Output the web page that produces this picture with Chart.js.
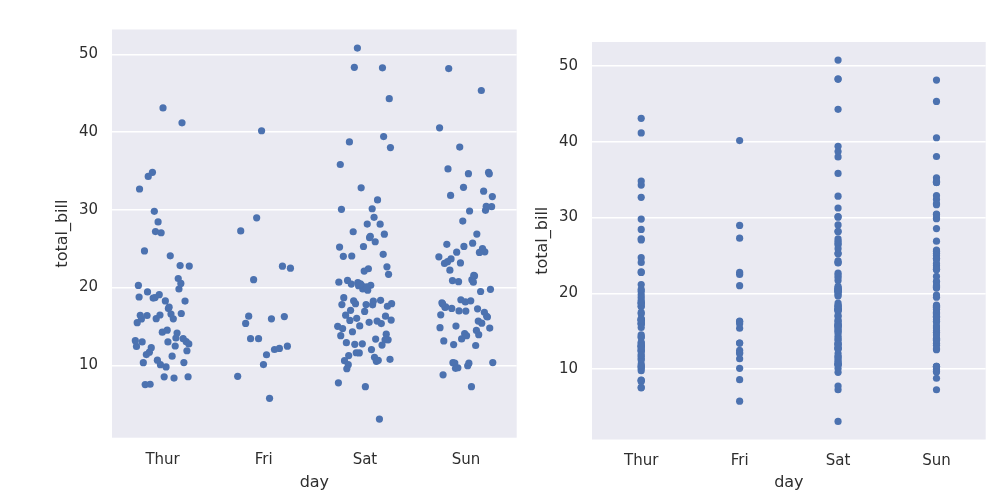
<!DOCTYPE html>
<html lang="en">
<head>
<meta charset="UTF-8">
<title>tips - strip plots</title>
<script src="https://cdn.jsdelivr.net/npm/chart.js"></script>
<style>
  body { margin: 0; background: #ffffff; }
  .panel { position: absolute; top: 0; height: 498px; }
  #leftBox { left: 0; width: 525px; }
  #rightBox { left: 525px; width: 465px; }
</style>
</head>
<body>
<div class="panel" id="leftBox"><canvas id="leftChart"></canvas></div>
<div class="panel" id="rightBox"><canvas id="rightChart"></canvas></div>
<script>
// tick labels / categories
const days = ['Thur', 'Fri', 'Sat', 'Sun'];
const yTicks = [10, 20, 30, 40, 50];

// total_bill per day
const thurBills = [27.20, 22.76, 17.29, 19.44, 16.66, 10.07, 32.68, 15.98, 34.83, 13.03, 18.28, 24.71, 21.16,
  10.65, 12.43, 24.08, 11.69, 13.42, 14.26, 15.95, 12.48, 29.80, 8.52, 14.52, 11.38, 22.82, 19.08, 20.27,
  11.17, 12.26, 18.26, 8.51, 10.33, 14.15, 16.00, 13.16, 17.47, 34.30, 41.19, 27.05, 16.43, 8.35, 18.64,
  11.87, 9.78, 7.51, 19.81, 28.44, 15.48, 16.58, 7.56, 10.34, 43.11, 13.00, 13.51, 18.71, 12.74, 13.00,
  16.40, 20.53, 16.47, 18.78];
const friBills = [28.97, 22.49, 5.75, 16.32, 22.75, 40.17, 27.28, 12.03, 21.01, 12.46, 11.35, 15.38,
  12.16, 13.42, 8.58, 15.98, 13.42, 16.27, 10.09];
const satBills = [20.65, 17.92, 20.29, 15.77, 39.42, 19.82, 17.81, 13.37, 12.69, 21.70, 19.65, 9.55, 18.35,
  15.06, 20.69, 17.78, 24.06, 16.31, 16.93, 18.69, 31.27, 16.04, 38.01, 26.41, 11.24, 48.27, 20.29, 13.81,
  11.02, 18.29, 17.59, 20.08, 16.45, 3.07, 20.23, 15.01, 12.02, 17.07, 26.86, 25.28, 14.73, 10.51, 17.92,
  44.30, 22.42, 20.92, 15.36, 20.49, 25.21, 18.24, 14.31, 14.00, 7.25, 10.59, 10.63, 50.81, 15.81,
  26.59, 38.73, 24.27, 12.76, 30.06, 25.89, 48.33, 13.27, 28.17, 12.90, 28.15, 11.59, 7.74, 30.14,
  20.45, 13.28, 22.12, 24.01, 15.69, 11.61, 10.77, 15.53, 10.07, 12.60, 32.83, 35.83, 29.03, 27.18,
  22.67, 17.82];
const sunBills = [16.99, 10.34, 21.01, 23.68, 24.59, 25.29, 8.77, 26.88, 15.04, 14.78, 10.27, 35.26, 15.42,
  18.43, 14.83, 21.58, 10.33, 16.29, 16.97, 17.46, 13.94, 9.68, 30.40, 18.29, 22.23, 32.40, 28.55, 18.04,
  12.54, 10.29, 34.81, 9.94, 25.56, 19.49, 38.07, 23.95, 25.71, 17.31, 29.93, 14.07, 13.13, 17.26, 24.55,
  19.77, 29.85, 48.17, 25.00, 13.39, 16.49, 21.50, 12.66, 16.21, 13.81, 17.51, 24.52, 20.76, 31.71, 7.25,
  31.85, 16.82, 32.90, 17.89, 14.48, 9.60, 34.63, 34.65, 23.33, 45.35, 23.17, 40.55, 20.69, 20.90, 30.46,
  18.15, 23.10, 15.69];

const billsByDay = [thurBills, friBills, satBills, sunBills];

const BLUE = '#4c72b0';
const TEXT = '#2e2e2e';

// fixed (non random) spread across the strip, golden-ratio steps
function spread(k) {
  return ((k * 0.6180339887 + 0.37) % 1) * 2 - 1;
}

function stripPoints(jitter) {
  const pts = [];
  billsByDay.forEach((bills, d) => {
    bills.forEach((v, k) => {
      pts.push({ x: d + jitter * spread(k), y: v });
    });
  });
  return pts;
}

const plotBg = {
  id: 'plotBg',
  beforeDraw(chart) {
    const a = chart.chartArea, ctx = chart.ctx;
    ctx.save();
    ctx.fillStyle = '#eaeaf2';
    ctx.fillRect(a.left, a.top, a.right - a.left, a.bottom - a.top);
    ctx.restore();
  }
};

function makeChart(id, jitter, pad, yWidth, xHeight) {
  return new Chart(document.getElementById(id), {
    type: 'scatter',
    data: {
      datasets: [{
        data: stripPoints(jitter),
        backgroundColor: BLUE,
        borderColor: BLUE,
        borderWidth: 0,
        pointRadius: 3.6,
        pointHoverRadius: 3.6
      }]
    },
    options: {
      responsive: true,
      maintainAspectRatio: false,
      animation: false,
      events: [],
      layout: { padding: pad },
      plugins: { legend: { display: false }, tooltip: { enabled: false } },
      scales: {
        x: {
          type: 'linear',
          min: -0.5,
          max: 3.5,
          afterBuildTicks: s => { s.ticks = days.map((d, i) => ({ value: i })); },
          afterFit: s => { s.height = xHeight; },
          grid: { display: false },
          border: { display: false },
          ticks: {
            callback: v => days[v],
            color: TEXT,
            font: { family: 'DejaVu Sans', size: 15 },
            padding: 5,
            maxRotation: 0
          },
          title: { display: true, text: 'day', color: TEXT, font: { family: 'DejaVu Sans', size: 16 } }
        },
        y: {
          min: 0.68,
          max: 53.2,
          afterBuildTicks: s => { s.ticks = yTicks.map(v => ({ value: v })); },
          afterFit: s => { s.width = yWidth; },
          grid: { color: '#ffffff', lineWidth: 1.5, drawTicks: false },
          border: { display: false },
          ticks: {
            color: TEXT,
            font: { family: 'DejaVu Sans', size: 15 },
            padding: 14
          },
          title: { display: true, text: 'total_bill', color: TEXT, font: { family: 'DejaVu Sans', size: 16 } }
        }
      }
    },
    plugins: [plotBg]
  });
}

makeChart('leftChart', 0.27, { left: 49, right: 8.3, top: 29.5, bottom: 1.8 }, 63, 58.5);
makeChart('rightChart', 0, { left: 4, right: 4.3, top: 42, bottom: 1.8 }, 63, 56.7);
</script>
</body>
</html>
